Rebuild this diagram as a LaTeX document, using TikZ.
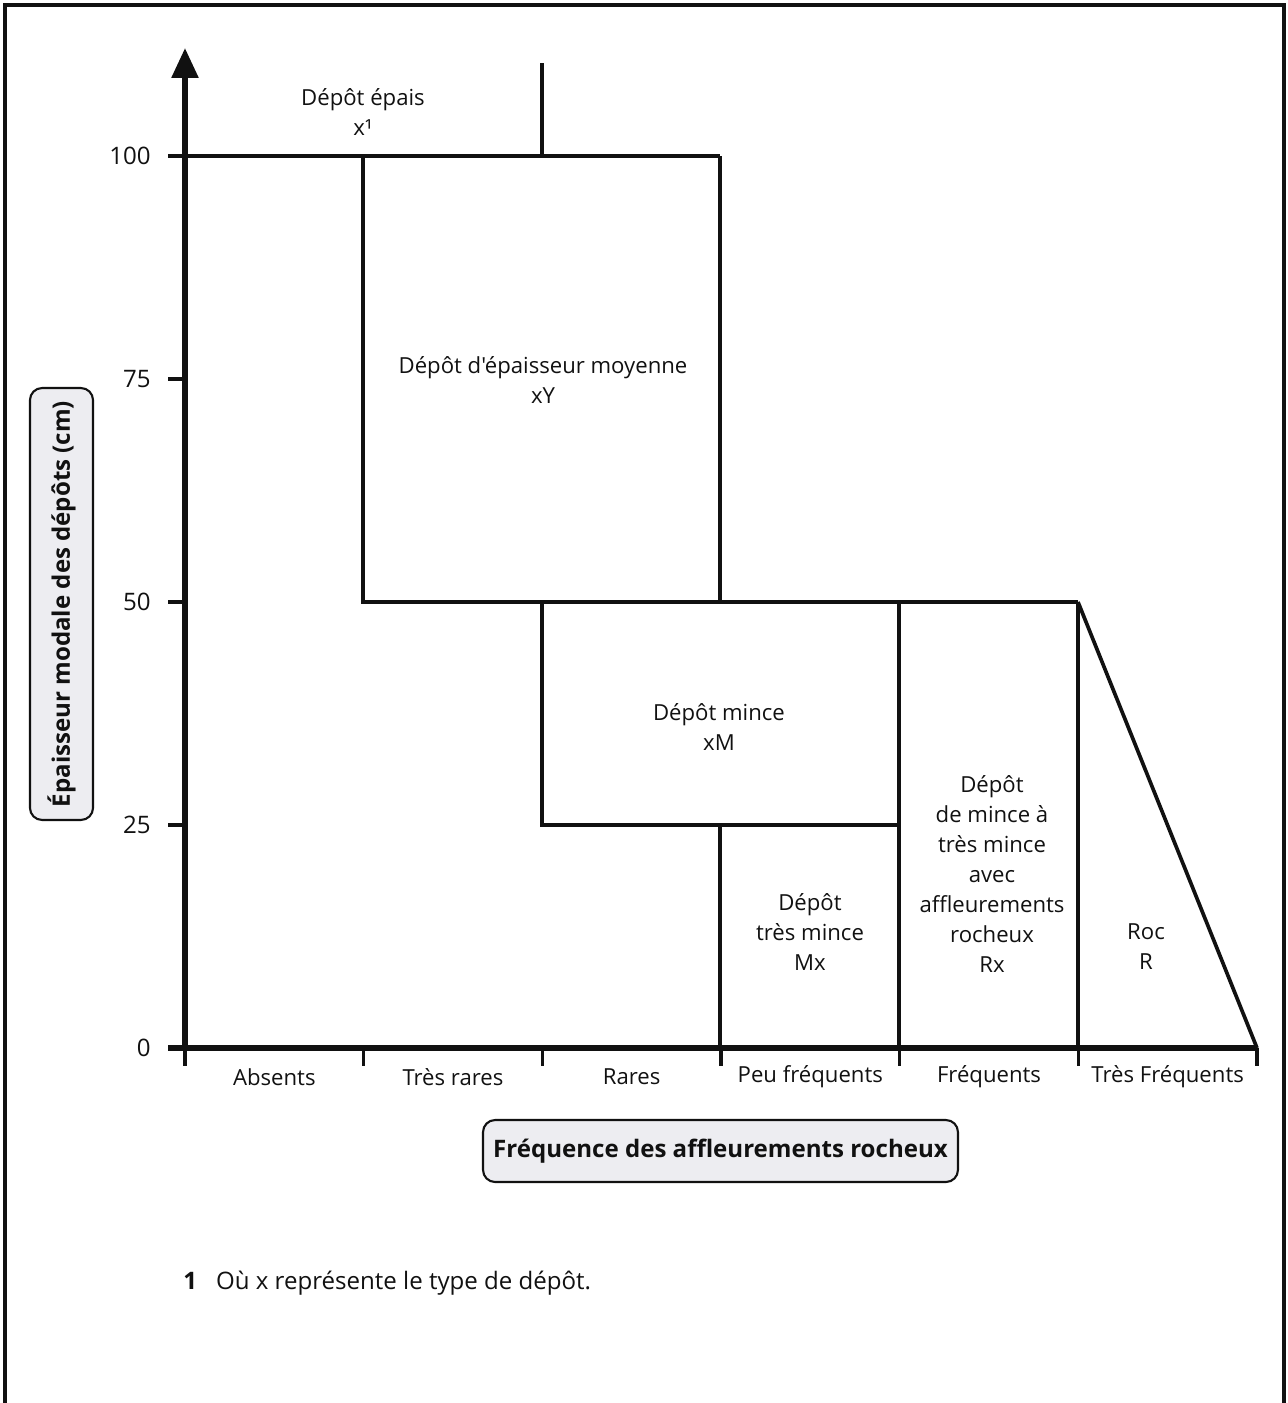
\documentclass[tikz,border=0pt]{standalone}
\usepackage{fontspec}
\setmainfont{Open Sans}[Ligatures=TeXOff]
\usetikzlibrary{arrows.meta, positioning}
\definecolor{boxfill}{HTML}{EDEDF1}
\definecolor{ink}{HTML}{111111}
\newcommand\zonefont{\fontsize{12.6pt}{17pt}\selectfont}
\newcommand\bigfont{\fontsize{13.7pt}{17pt}\selectfont}
\tikzset{
  framebox/.style={line width=2.4pt, draw=ink},
  axisline/.style={line width=3.2pt, draw=ink},
  zoneline/.style={line width=2.1pt, draw=ink},
  tickline/.style={line width=2pt, draw=ink},
  zone/.style={font=\zonefont, align=center, inner sep=0pt, text=ink},
  ticklab/.style={font=\bigfont, anchor=east, inner sep=0pt, text=ink},
  catlab/.style={font=\zonefont, inner sep=0pt, text=ink},
  titlebox/.style={rectangle, rounded corners=0.24cm, draw=ink, fill=boxfill, line width=1.2pt, font=\bigfont\bfseries, inner sep=0pt, text=ink},
}
\begin{document}
\begin{tikzpicture}[x=0.02cm, y=-0.02cm]
  \useasboundingbox (0,0) rectangle (1288,1403);
  \draw[framebox] (5,1403) -- (5,5) -- (1284,5) -- (1284,1403);

  % zone limits
  \draw[zoneline] (185,156) -- (720,156);
  \draw[zoneline] (542,63) -- (542,156);
  \draw[zoneline] (363,156) -- (363,602) -- (1078,602);
  \draw[zoneline] (720,156) -- (720,602);
  \draw[zoneline] (542,602) -- (542,825) -- (899,825);
  \draw[zoneline] (720,825) -- (720,1048);
  \draw[zoneline] (899,602) -- (899,1048);
  \draw[zoneline] (1078,602) -- (1078,1048);
  \draw[zoneline] (1078,602) -- (1257,1048);

  % axes
  \draw[axisline, -{Triangle[length=0.6cm, width=0.52cm]}] (185,1048) -- (185,48);
  \draw[axisline] (168,1048) -- (1257,1048);
  \foreach \i in {0,...,6}
    \draw[tickline] (185+\i*178.67,1048) -- (185+\i*178.67,1066);
  \foreach \v/\y in {25/825, 50/602, 75/379, 100/156} {
    \draw[tickline] (168,\y) -- (185,\y);
    \node[ticklab] (tick\v) at (151,\y) {\v};
  }
  \node[ticklab] (tick0) at (151,1048) {0};

  % categories
  \foreach \lab [count=\i from 0] in {Absents, Très rares, Rares, Peu fréquents, Fréquents, Très Fréquents}
    \node[catlab] (cat\i) at (274.3+\i*178.67,1077) {\lab};

  % zone names
  \node[zone] (epais) at (363,112) {Dépôt épais\\x¹};
  \node[zone] (moyen) at (543,380) {Dépôt d'épaisseur moyenne\\xY};
  \node[zone] (mince) at (719,727) {Dépôt mince\\xM};
  \node[zone] (tresmince) at (810,932) {Dépôt\\très mince\\Mx};
  \node[zone] (affl) at (992,874) {Dépôt\\de mince à\\très mince\\avec\\affleurements\\rocheux\\Rx};
  \node[zone] (roc) at (1146,947) {Roc\\R};

  % axis titles
  \node[titlebox, rotate=90, minimum width=8.64cm, minimum height=1.26cm] (ytitle) at (61.5,604) {Épaisseur modale des dépôts (cm)};
  \node[titlebox, minimum width=9.5cm, minimum height=1.24cm] (xtitle) at (720.5,1151) {Fréquence des affleurements rocheux};

  % footnote
  \node[catlab, font=\bigfont, anchor=west] (note) at (183,1283) {\textbf{1}\hspace{0.38cm}Où x représente le type de dépôt.};
\end{tikzpicture}
\end{document}
